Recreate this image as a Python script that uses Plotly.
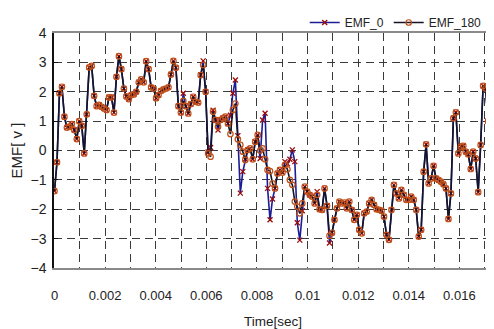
import numpy as np
import plotly.graph_objects as go

emf_180 = [
    -1.38, -0.40, 1.95, 2.17, 1.15, 0.78, 0.81, 0.90, 0.70, 0.39,
    1.00, 0.84, -0.10, 1.23, 2.83, 2.88, 1.86, 1.51, 1.55, 1.49,
    1.43, 1.38, 1.81, 1.81, 1.29, 2.51, 3.21, 2.77, 2.11, 1.84,
    1.75, 1.89, 1.91, 2.00, 2.32, 2.42, 2.32, 3.04, 2.77, 2.15,
    2.11, 1.78, 1.89, 2.03, 2.08, 2.11, 2.15, 2.59, 3.05, 2.82,
    1.51, 1.29, 1.69, 1.51, 1.26, 1.58, 1.83, 1.66, 1.63, 2.57,
    2.91, 2.00, -0.10, -0.21, 1.32, 1.04, 0.81, 1.04, 1.10, 1.15,
    0.92, 0.56, 1.38, 1.60, 0.38, 0.19, -0.04, -0.32, 0.02, 0.07,
    -0.30, 0.30, 0.53, 0.00, 0.07, -0.30, -0.66, -0.70, -1.12, -1.29,
    -0.78, -0.66, -0.75, -0.49, -0.64, -1.00, -1.17, -1.74, -1.91, -2.14,
    -1.80, -1.23, -1.40, -1.51, -1.57, -1.80, -1.51, -2.00, -2.02, -1.29,
    -1.88, -2.90, -2.80, -2.36, -1.97, -1.74, -1.80, -1.77, -1.97, -1.74,
    -2.02, -2.36, -2.19, -2.70, -2.82, -2.14, -2.08, -1.80, -1.68, -1.85,
    -2.00, -2.02, -2.05, -2.25, -2.87, -3.04, -2.02, -1.17, -1.46, -1.63,
    -1.34, -1.51, -1.68, -1.68, -1.57, -1.68, -2.02, -2.93, -2.70, -0.72,
    0.21, -1.12, -0.95, -0.52, -0.95, -1.00, -1.06, -1.15, -1.29, -2.33,
    -1.46, 1.10, 1.30, -0.10, 0.13, 0.16, -0.04, -0.13, -0.63, -0.04,
    -0.27, -1.42, 0.19, 2.20, 2.11, 1.00, 0.73,
]

emf_0 = [
    -1.38, -0.40, 1.95, 2.17, 1.15, 0.78, 0.81, 0.90, 0.70, 0.39,
    1.00, 0.84, -0.10, 1.23, 2.83, 2.88, 1.86, 1.51, 1.55, 1.49,
    1.43, 1.38, 1.81, 1.81, 1.29, 2.51, 3.21, 2.77, 2.11, 1.84,
    1.75, 1.89, 1.91, 2.00, 2.32, 2.42, 2.32, 3.04, 2.77, 2.15,
    2.11, 1.78, 1.89, 2.03, 2.08, 2.11, 2.15, 2.59, 3.05, 2.82,
    1.51, 1.29, 1.95, 1.51, 1.26, 1.58, 1.83, 1.66, 1.63, 2.57,
    3.05, 2.00, -0.05, 0.10, 1.37, 1.04, 0.70, 1.04, 1.10, 1.15,
    0.92, 1.20, 1.95, 2.40, 0.50, -1.45, -0.72, -0.30, 0.02, 0.07,
    -0.30, 0.30, 0.53, -0.27, 1.04, 1.27, -1.29, -2.36, -1.65, -1.29,
    -0.78, -0.66, -0.75, -0.38, -0.45, -0.30, 0.02, -0.38, -2.46, -3.05,
    -2.05, -1.23, -1.40, -1.51, -1.57, -1.80, -1.40, -2.00, -2.02, -1.29,
    -1.88, -3.15, -2.80, -2.36, -1.97, -1.74, -1.80, -1.77, -1.97, -1.74,
    -2.02, -2.36, -2.19, -2.70, -2.82, -2.14, -2.08, -1.80, -1.68, -1.85,
    -2.00, -2.02, -2.05, -2.25, -2.87, -3.04, -2.02, -1.17, -1.46, -1.63,
    -1.34, -1.51, -1.68, -1.68, -1.57, -1.68, -2.02, -2.93, -2.70, -0.72,
    0.21, -1.12, -0.95, -0.52, -0.95, -1.00, -1.06, -1.15, -1.29, -2.33,
    -1.46, 1.10, 1.30, -0.10, 0.13, 0.16, -0.04, -0.13, -0.63, -0.04,
    -0.27, -1.42, 0.19, 2.20, 2.11, 1.00, 0.73,
]

t_end = 0.017233
time = np.linspace(0, t_end, len(emf_180))

x_tickvals = [0, 0.001, 0.002, 0.003, 0.004, 0.005, 0.006, 0.007, 0.008,
              0.009, 0.010, 0.011, 0.012, 0.013, 0.014, 0.015, 0.016, 0.017]
x_ticktext = ["0", "", "0.002", "", "0.004", "", "0.006", "", "0.008",
              "", "0.01", "", "0.012", "", "0.014", "", "0.016", ""]
y_tickvals = [-4, -3, -2, -1, 0, 1, 2, 3, 4]

FONT = "Liberation Sans, Arial, sans-serif"

fig = go.Figure()
fig.add_trace(go.Scatter(
    x=time, y=emf_0, name="EMF_0", mode="lines+markers",
    line=dict(color="#1c1c96", width=1.6),
    marker=dict(symbol="x-thin-open", size=5, color="#9a0a0a",
                line=dict(color="#9a0a0a", width=1.3)),
))
fig.add_trace(go.Scatter(
    x=time, y=emf_180, name="EMF_180", mode="lines+markers",
    line=dict(color="#141424", width=1.6),
    marker=dict(symbol="circle-open", size=5.5, color="#c0501a",
                line=dict(color="#c0501a", width=1.2)),
))

# the page body adds an 8px offset, so the figure is sized to the remaining view
fig.update_layout(
    width=486, height=321,
    margin=dict(l=45.5, r=2, t=25, b=60.5, autoexpand=False),
    paper_bgcolor="white", plot_bgcolor="white",
    font=dict(family=FONT, size=13, color="#222222"),
    showlegend=True,
    legend=dict(orientation="h", x=0.985, xanchor="right", xref="container",
                y=1.0, yanchor="top", yref="container",
                font=dict(family=FONT, size=12, color="#222222"),
                itemwidth=30, tracegroupgap=0, bgcolor="rgba(0,0,0,0)",
                borderwidth=0),
    xaxis=dict(range=[-0.00002, 0.01729], tickmode="array",
               tickvals=x_tickvals, ticktext=x_ticktext, automargin=False,
               showgrid=True, gridcolor="#3a3a3a", griddash="8px,5px", gridwidth=1,
               showline=True, linecolor="#8a8a8a", linewidth=2, mirror=True,
               ticks="", ticklabelstandoff=14, zeroline=False,
               tickfont=dict(family=FONT, size=13),
               title=dict(text="Time[sec]", standoff=17,
                          font=dict(family=FONT, size=13.5))),
    yaxis=dict(range=[-4, 4], tickmode="array", tickvals=y_tickvals,
               automargin=False,
               showgrid=True, gridcolor="#3a3a3a", griddash="8px,5px", gridwidth=1,
               showline=True, linecolor="#111111", linewidth=1.5,
               ticks="inside", ticklen=4, tickcolor="#111111",
               zeroline=False, tickfont=dict(family=FONT, size=14),
               ticklabelstandoff=3,
               title=dict(text="EMF[ v ]", standoff=6,
                          font=dict(family=FONT, size=15))),
    shapes=[dict(type="line", xref="paper", yref="paper", x0=1, x1=1, y0=0, y1=1,
                 line=dict(color="#8a8a8a", width=2))],
)

fig.write_html("out.html")
